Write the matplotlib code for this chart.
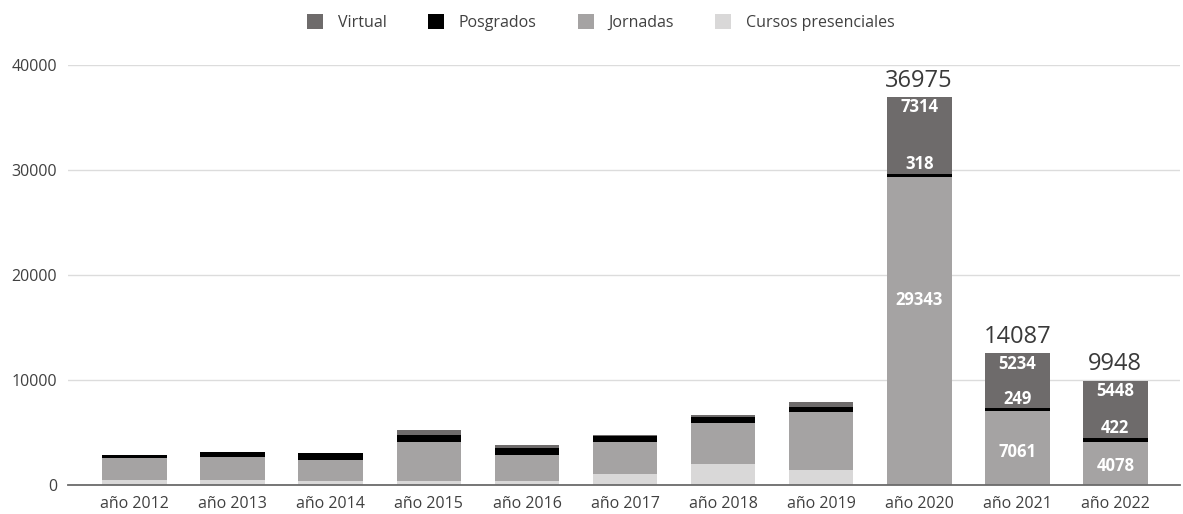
import numpy as np
import matplotlib
matplotlib.use("Agg")
import matplotlib.pyplot as plt

plt.rcParams['font.family'] = ['Open Sans', 'DejaVu Sans']

years = ["año 2012", "año 2013", "año 2014", "año 2015", "año 2016", "año 2017",
         "año 2018", "año 2019", "año 2020", "año 2021", "año 2022"]
cursos = [500, 500, 400, 380, 380, 1050, 1970, 1430, 0, 0, 0]
jornadas = [2050, 2200, 1980, 3740, 2480, 3070, 3900, 5550, 29343, 7061, 4078]
posgrados = [310, 470, 640, 640, 700, 580, 610, 480, 318, 249, 422]
virtual = [0, 0, 0, 480, 250, 60, 190, 410, 7314, 5234, 5448]
totals = [None, None, None, None, None, None, None, None, 36975, 14087, 9948]
labelled = [8, 9, 10]

series = [("Cursos presenciales", cursos, "#d9d8d8"),
          ("Jornadas", jornadas, "#a5a3a3"),
          ("Posgrados", posgrados, "#000000"),
          ("Virtual", virtual, "#6e6b6b")]

fig = plt.figure(figsize=(11.83, 5.14), dpi=100)
ax = fig.add_axes([0.0575, 0.0564, 0.94, 0.8171])

x = np.arange(len(years))
bottom = np.zeros(len(years))
handles = {}
for name, vals, col in series:
    vals = np.array(vals, dtype=float)
    handles[name] = ax.bar(x, vals, 0.66, bottom=bottom, color=col, label=name, zorder=2)
    bottom += vals

cur = np.array(cursos, float)
jor = np.array(jornadas, float)
pos = np.array(posgrados, float)
vir = np.array(virtual, float)
lab = dict(color="white", fontweight="bold", fontsize=12, ha="center", zorder=4)
for i in labelled:
    top_j = cur[i] + jor[i]
    top_p = top_j + pos[i]
    top_v = top_p + vir[i]
    ax.text(x[i], top_v - 1000, f"{virtual[i]}", va="center", **lab)
    ax.text(x[i], top_p + 50, f"{posgrados[i]}", va="bottom", **lab)
    ax.text(x[i], cur[i] + jor[i] * 0.6 if jor[i] > 20000 else cur[i] + jor[i] * 0.45,
            f"{jornadas[i]}", va="center", **lab)
    ax.annotate(f"{totals[i]}", (x[i], top_v), xytext=(0, 3), textcoords="offset points",
                ha="center", va="bottom", fontsize=17, color="#3a3a3a", clip_on=False)

ax.set_ylim(0, 40000)
ax.set_xlim(-0.68, 10.66)
ax.set_yticks([0, 10000, 20000, 30000, 40000])
ax.yaxis.grid(True, color="#dcdcdc", linewidth=1, zorder=0)
ax.set_axisbelow(True)
for s in ["top", "right", "left"]:
    ax.spines[s].set_visible(False)
ax.spines["bottom"].set_color("#6b6b6b")
ax.spines["bottom"].set_linewidth(1.3)
ax.set_xticks(x)
ax.set_xticklabels(years)
ax.tick_params(axis="both", length=0, labelsize=11.5, colors="#404040", pad=8)

order = ["Virtual", "Posgrados", "Jornadas", "Cursos presenciales"]
leg = fig.legend([handles[n] for n in order], order, loc="upper center",
                 bbox_to_anchor=(0.508, 1.0), ncol=4, frameon=False, fontsize=11.5,
                 handlelength=1.0, handleheight=1.0, columnspacing=2.6, handletextpad=0.9)
for t in leg.get_texts():
    t.set_color("#404040")

fig.savefig("out.png", dpi=100)
